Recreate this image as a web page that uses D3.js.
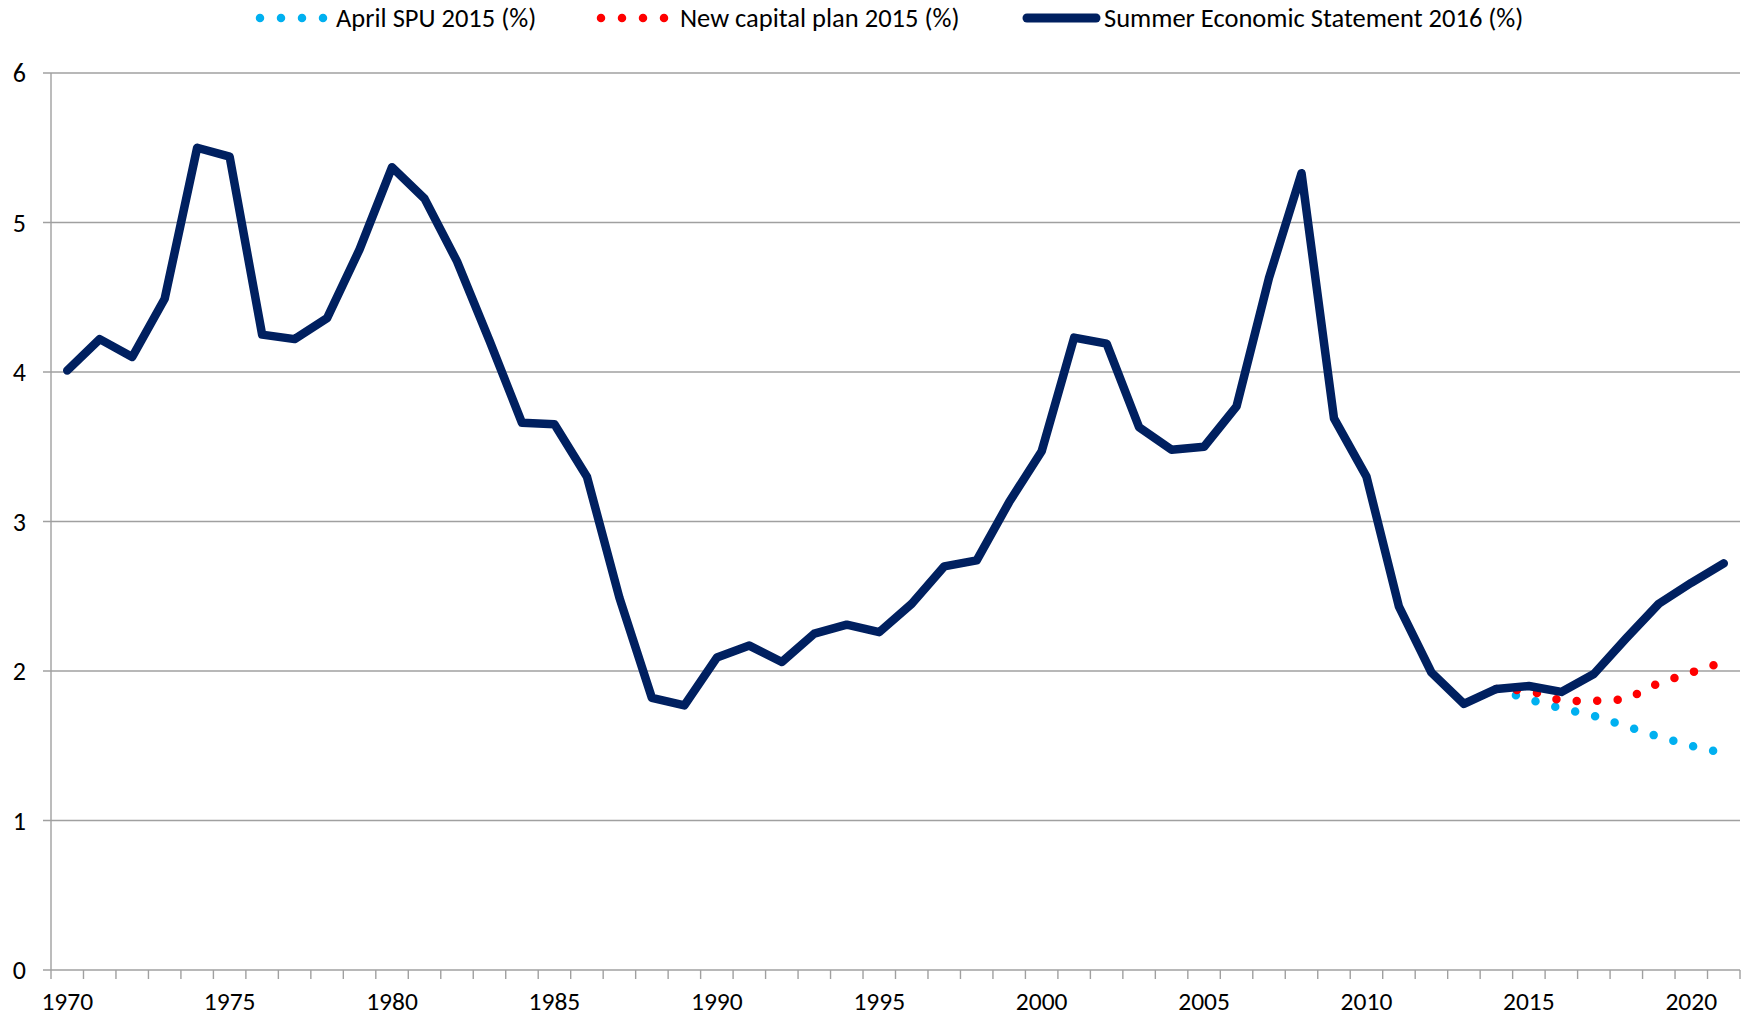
<!DOCTYPE html>
<html lang="en">
<head>
<meta charset="UTF-8">
<title>Public investment</title>
<script src="https://cdnjs.cloudflare.com/ajax/libs/d3/7.8.5/d3.min.js"></script>
<style>
  body { margin: 0; background: #fff; }
  svg text { font-family: Carlito, Calibri, Lato, sans-serif; fill: #000; }
</style>
</head>
<body>
<script>
// years on the category axis
var years = d3.range(1970, 2022);
var yTicks = [0, 1, 2, 3, 4, 5, 6];

// Summer Economic Statement 2016 (%)
var ses2016 = [4.01, 4.22, 4.10, 4.49, 5.50, 5.44, 4.25, 4.22, 4.36, 4.82,
               5.37, 5.16, 4.74, 4.21, 3.66, 3.65, 3.30, 2.49, 1.82, 1.77,
               2.09, 2.17, 2.06, 2.25, 2.31, 2.26, 2.45, 2.70, 2.74, 3.13,
               3.47, 4.23, 4.19, 3.63, 3.48, 3.50, 3.77, 4.63, 5.33, 3.69,
               3.30, 2.43, 1.99, 1.78, 1.88, 1.90, 1.86, 1.98, 2.22, 2.45,
               2.59, 2.72];
// April SPU 2015 (%) and New capital plan 2015 (%), 2014 to 2021
var fcYears = [2014, 2015, 2016, 2017, 2018, 2019, 2020, 2021];
var spu2015 = [1.88, 1.81, 1.75, 1.70, 1.63, 1.56, 1.50, 1.45];
var capPlan2015 = [1.88, 1.87, 1.80, 1.80, 1.81, 1.92, 1.99, 2.06];

var seriesNames = ["April SPU 2015 (%)", "New capital plan 2015 (%)", "Summer Economic Statement 2016 (%)"];

var width = 1752, height = 1018;
var svg = d3.select("body").append("svg")
    .attr("width", width).attr("height", height);

var x = d3.scaleBand().domain(years).range([51, 1740]).padding(0);
var y = d3.scaleLinear().domain([0, 6]).range([970, 73]);
var cx = function(yr) { return x(yr) + x.bandwidth() / 2; };

// gridlines + y ticks
svg.selectAll("line.grid").data(yTicks).enter().append("line")
    .attr("x1", 43).attr("x2", 1740)
    .attr("y1", function(d) { return y(d); }).attr("y2", function(d) { return y(d); })
    .attr("stroke", "#a0a0a0").attr("stroke-width", 1.4);

svg.selectAll("text.ylab").data(yTicks).enter().append("text")
    .attr("x", 26).attr("y", function(d) { return y(d); })
    .attr("dy", "0.35em").attr("text-anchor", "end")
    .attr("font-size", 26).text(function(d) { return d; });

// y axis line
svg.append("line").attr("x1", 51).attr("x2", 51).attr("y1", y(6)).attr("y2", y(0))
    .attr("stroke", "#a0a0a0").attr("stroke-width", 1.4);

// x ticks at category boundaries
var bounds = years.map(function(d) { return x(d); }).concat([x(2021) + x.bandwidth()]);
svg.selectAll("line.xtick").data(bounds).enter().append("line")
    .attr("x1", function(d) { return d; }).attr("x2", function(d) { return d; })
    .attr("y1", y(0)).attr("y2", y(0) + 9)
    .attr("stroke", "#a0a0a0").attr("stroke-width", 1.4);

svg.selectAll("text.xlab").data(years.filter(function(d) { return d % 5 === 0; }))
    .enter().append("text")
    .attr("x", function(d) { return cx(d); }).attr("y", 1001)
    .attr("dy", "0.35em").attr("text-anchor", "middle")
    .attr("font-size", 25.5).text(function(d) { return d; });

var line = d3.line().x(function(d) { return cx(d[0]); }).y(function(d) { return y(d[1]); });

// dotted forecast series
var dotted = function(vals, color) {
  svg.append("path")
    .datum(fcYears.map(function(yr, i) { return [yr, vals[i]]; }))
    .attr("d", line).attr("fill", "none")
    .attr("stroke", color).attr("stroke-width", 8.5)
    .attr("stroke-linecap", "round").attr("stroke-dasharray", "0 20.5");
};
dotted(spu2015, "#00b0f0");
dotted(capPlan2015, "#ff0000");

// main series
svg.append("path")
  .datum(years.map(function(yr, i) { return [yr, ses2016[i]]; }))
  .attr("d", line).attr("fill", "none")
  .attr("stroke", "#002060").attr("stroke-width", 8.5)
  .attr("stroke-linejoin", "round").attr("stroke-linecap", "round");

// legend
var legend = [
  { x1: 260, x2: 324, tx: 336, color: "#00b0f0", dot: true },
  { x1: 601, x2: 668, tx: 680, color: "#ff0000", dot: true },
  { x1: 1027, x2: 1096, tx: 1104, color: "#002060", dot: false }
];
legend.forEach(function(l, i) {
  var ln = svg.append("line").attr("x1", l.x1).attr("x2", l.x2).attr("y1", 18).attr("y2", 18)
    .attr("stroke", l.color).attr("stroke-linecap", "round");
  if (l.dot) ln.attr("stroke-width", 8.5).attr("stroke-dasharray", "0 21");
  else ln.attr("stroke-width", 9);
  svg.append("text").attr("x", l.tx).attr("y", 18).attr("dy", "0.35em")
    .attr("font-size", 26.5).text(seriesNames[i]);
});
</script>
</body>
</html>
